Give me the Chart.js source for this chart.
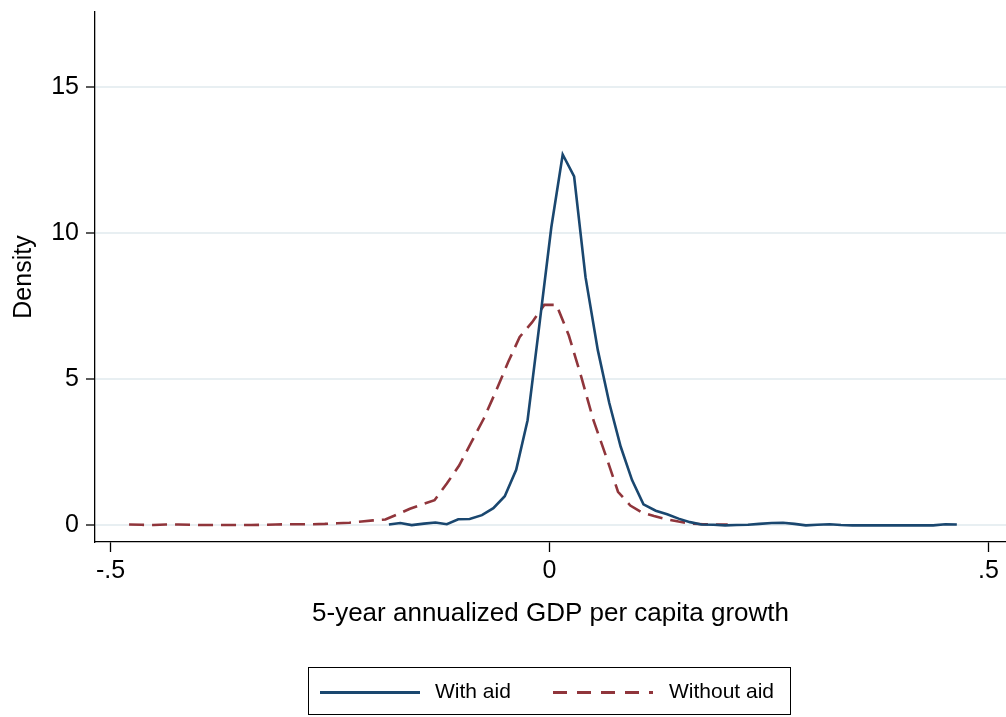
<!DOCTYPE html>
<html>
<head>
<meta charset="utf-8">
<script src="https://cdn.jsdelivr.net/npm/chart.js@4/dist/chart.umd.min.js"></script>
<style>
  html, body { margin: 0; padding: 0; background: #fff; }
  #wrap { position: relative; width: 1006px; height: 717px; }
  #legend {
    position: absolute; left: 308px; top: 667px; width: 483px; height: 48px;
    border: 1.3px solid #000; box-sizing: border-box;
    font-family: "Liberation Sans", Arial, sans-serif; font-size: 21px; color: #000;
  }
  #legend .sample { position: absolute; top: 23px; height: 2.6px; width: 100px; }
  #legend .label { position: absolute; top: 11px; line-height: 24px; }
</style>
</head>
<body>
<div id="wrap">
  <canvas id="chart" width="1006" height="717"></canvas>
  <div id="legend">
    <div class="sample" style="left:11px;background:#1a476f;"></div>
    <div class="label" style="left:126px;">With aid</div>
    <div class="sample" style="left:244px;background:repeating-linear-gradient(to right,#90353b 0 14px,transparent 14px 24px);"></div>
    <div class="label" style="left:360px;">Without aid</div>
  </div>
</div>
<script>
// ---- data (kernel density estimates) ----
const withAidX = [-0.183, -0.170, -0.157, -0.143, -0.130, -0.117, -0.104, -0.091, -0.077, -0.064,
                  -0.051, -0.038, -0.025, -0.011, 0.002, 0.015, 0.028, 0.041, 0.055, 0.068,
                  0.081, 0.094, 0.107, 0.121, 0.134, 0.147, 0.160, 0.173, 0.187, 0.200,
                  0.213, 0.226, 0.239, 0.253, 0.266, 0.279, 0.292, 0.305, 0.319, 0.332,
                  0.345, 0.358, 0.371, 0.385, 0.398, 0.411, 0.424, 0.437, 0.451, 0.464];
const withAidY = [0.03, 0.08, 0.01, 0.06, 0.10, 0.04, 0.21, 0.22, 0.35, 0.59,
                  1.00, 1.90, 3.60, 7.00, 10.20, 12.70, 11.95, 8.50, 6.00, 4.20,
                  2.70, 1.55, 0.72, 0.50, 0.38, 0.23, 0.11, 0.03, 0.02, 0.00,
                  0.01, 0.02, 0.05, 0.08, 0.09, 0.05, 0.00, 0.02, 0.04, 0.01,
                  0.00, 0.00, 0.00, 0.00, 0.00, 0.00, 0.00, 0.00, 0.04, 0.03];

const withoutAidX = [-0.479, -0.465, -0.451, -0.437, -0.423, -0.409, -0.395, -0.382, -0.368, -0.354,
                     -0.340, -0.326, -0.312, -0.298, -0.284, -0.270, -0.256, -0.242, -0.228, -0.214,
                     -0.201, -0.187, -0.173, -0.159, -0.145, -0.131, -0.117, -0.103, -0.089, -0.075,
                     -0.061, -0.047, -0.034, -0.020, -0.006, 0.008, 0.022, 0.036, 0.050, 0.064,
                     0.078, 0.092, 0.105, 0.119, 0.133, 0.147, 0.161, 0.175, 0.189, 0.203];
const withoutAidY = [0.03, 0.02, 0.01, 0.03, 0.03, 0.02, 0.01, 0.01, 0.01, 0.01,
                     0.01, 0.02, 0.03, 0.04, 0.04, 0.04, 0.05, 0.07, 0.09, 0.13,
                     0.17, 0.20, 0.38, 0.57, 0.72, 0.86, 1.43, 2.05, 2.85, 3.65,
                     4.60, 5.60, 6.45, 6.95, 7.55, 7.55, 6.50, 5.10, 3.60, 2.40,
                     1.15, 0.68, 0.45, 0.32, 0.21, 0.13, 0.06, 0.04, 0.03, 0.03];

const xTicks = [-0.5, 0, 0.5];
const yTicks = [0, 5, 10, 15];

const seriesNames = ['With aid', 'Without aid'];

// ---- helpers ----
const FONT = '"Liberation Sans", Arial, Helvetica, sans-serif';
const toPoints = (xs, ys) => xs.map((x, i) => ({ x: x, y: ys[i] }));
const stataNum = v => {
    if (v === 0) return '0';
    const s = String(Math.abs(v)).replace(/^0\./, '.');
    return v < 0 ? '-' + s : s;
};

const ctx = document.getElementById('chart').getContext('2d');
new Chart(ctx, {
    type: 'scatter',
    data: {
        datasets: [
            {
                label: seriesNames[0],
                data: toPoints(withAidX, withAidY),
                showLine: true,
                borderColor: '#1a476f',
                borderWidth: 2.6,
                pointRadius: 0,
                tension: 0
            },
            {
                label: seriesNames[1],
                data: toPoints(withoutAidX, withoutAidY),
                showLine: true,
                borderColor: '#90353b',
                borderWidth: 2.6,
                borderDash: [15, 8],
                pointRadius: 0,
                tension: 0
            }
        ]
    },
    options: {
        responsive: false,
        animation: false,
        devicePixelRatio: 1,
        layout: { padding: { top: 12, right: 0, bottom: 0, left: 0 } },
        plugins: {
            legend: { display: false },
            tooltip: { enabled: false }
        },
        scales: {
            x: {
                type: 'linear',
                min: -0.5178,
                max: 0.52,
                afterBuildTicks: s => { s.ticks = xTicks.map(v => ({ value: v })); },
                afterFit: s => { s.height = 175; s.paddingLeft = 0; s.paddingRight = 0; },
                grid: {
                    drawOnChartArea: false,
                    drawTicks: true,
                    tickLength: 10,
                    tickColor: '#000',
                    tickWidth: 1.3
                },
                border: { display: true, color: '#000', width: 1.3 },
                ticks: {
                    color: '#000',
                    font: { family: FONT, size: 25 },
                    padding: 4,
                    maxRotation: 0,
                    callback: v => stataNum(v)
                },
                title: {
                    display: true,
                    text: '5-year annualized GDP per capita growth',
                    color: '#000',
                    font: { family: FONT, size: 26, lineHeight: 1.2 },
                    padding: { top: 0, bottom: 88 }
                }
            },
            y: {
                type: 'linear',
                min: -0.57,
                max: 17.58,
                afterBuildTicks: s => { s.ticks = yTicks.map(v => ({ value: v })); },
                afterFit: s => { s.width = 95; s.paddingTop = 0; s.paddingBottom = 0; },
                grid: {
                    color: '#e8eff2',
                    lineWidth: 2,
                    drawTicks: true,
                    tickLength: 9,
                    tickColor: '#000',
                    tickWidth: 1.3
                },
                border: { display: true, color: '#000', width: 1.3 },
                ticks: {
                    color: '#000',
                    font: { family: FONT, size: 25 },
                    padding: 7,
                    callback: v => stataNum(v)
                },
                title: {
                    display: true,
                    text: 'Density',
                    color: '#000',
                    font: { family: FONT, size: 25, lineHeight: 1.2 },
                    padding: { top: 9, bottom: 0 }
                }
            }
        }
    }
});
</script>
</body>
</html>
